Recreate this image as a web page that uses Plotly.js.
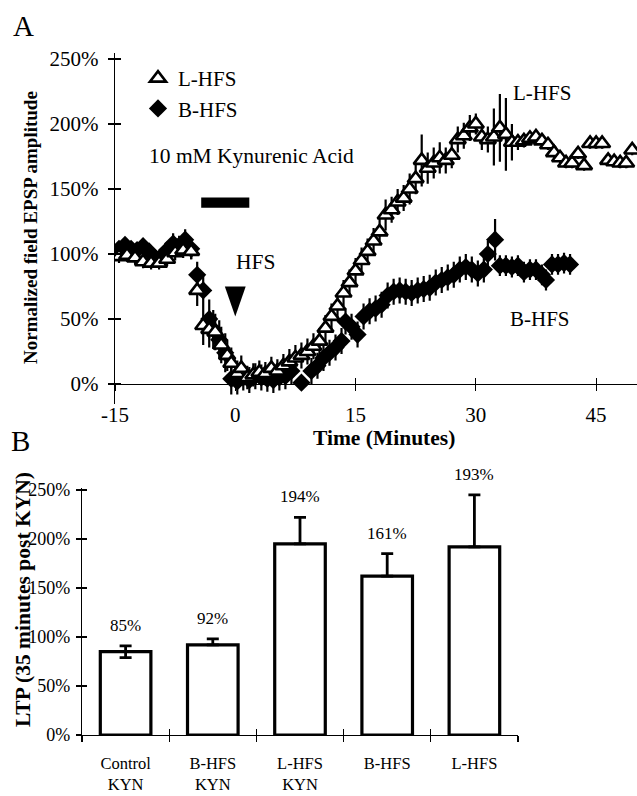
<!DOCTYPE html>
<html>
<head>
<meta charset="utf-8">
<script src="https://cdn.plot.ly/plotly-3.0.1.min.js"></script>
<style>html,body{margin:0;padding:0;background:#fff;}#plot{width:637px;height:796px;}</style>
</head>
<body>
<div id="plot"></div>
<script>
// ---------- Panel A data (time in minutes, normalized EPSP %) ----------
const lTime = [-15.5,-14.5,-13.5,-12.5,-11.5,-10.5,-9.5,-8.5,-7.5,-6.5,
  -5.5,-4.75,-4,-3.25,-2.5,-1.75,-1,-0.5,0.25,0.75,
  1.5,2.25,3,3.75,4.5,5.25,6,6.75,7.5,8.25,
  9,9.75,10.5,11.25,12,12.75,13.5,14.25,15,15.75,
  16.5,17.25,18,18.75,19.5,20.25,21,21.75,22.5,23.25,
  24,24.75,25.5,26.25,27,27.75,28.5,29.25,30,30.75,
  31.5,32.25,33,33.75,34.5,35.25,36,36.75,37.5,38.25,
  39,39.75,40.5,41.25,42,42.75,43.5,44.25,45,45.75,
  46.5,47.25,48,48.75,49.5];
const lVal = [100,98,99,97,94,93,93,96,101,103,
  102,72,45,42,40,30,22,16,8,12,
  5,7,9,8,12,10,14,17,20,22,
  25,29,33,43,52,60,70,78,87,95,
  102,110,117,130,134,140,143,150,158,172,
  166,170,174,172,176,188,191,197,200,190,
  188,190,197,192,186,186,187,189,190,187,
  184,178,174,170,170,177,168,185,185,185,
  172,171,170,170,180];
const lErr = [5,5,5,5,5,5,5,5,6,6,
  6,12,15,14,14,14,12,12,10,10,
  9,9,9,9,9,9,9,10,10,10,
  10,10,10,10,10,10,10,10,10,10,
  10,10,10,12,10,10,10,12,12,20,
  12,12,12,10,10,10,10,10,8,10,
  10,22,26,28,14,6,5,5,5,5,
  4,4,4,4,4,4,4,4,4,4,
  4,4,4,4,4];

const bTime = [-15.25,-14.5,-13.75,-13,-12.25,-11.5,-10.75,-10,-9.25,-8.5,
  -7.75,-7,-6.25,-5.5,-4.75,-4,-3.25,-2.75,-2,-1.25,
  -0.5,0.25,1,1.75,2.5,3.25,4,4.75,5.5,6.25,
  7,8.25,9.5,10.25,11,11.75,12.5,13.25,13.75,14.5,
  15.25,16,16.75,17.5,18.25,19,19.75,20.5,21.25,22,
  22.75,23.5,24.25,25,25.75,26.5,27.25,28,28.75,29.5,
  30.25,31,31.5,32.4,33,33.75,34.5,35.25,36,36.75,
  37.5,38.25,38.75,39.5,40.25,41,41.75];
const bVal = [101,104,107,104,103,106,102,97,98,103,
  108,106,111,104,84,72,50,42,34,24,
  4,2,5,3,6,5,4,3,5,6,
  10,1,10,14,20,24,28,33,48,44,
  38,52,56,58,61,68,71,72,71,70,
  72,73,74,78,80,82,84,88,90,88,
  85,88,100,111,91,91,90,91,86,88,
  88,84,80,92,92,93,92];
const bErr = [5,5,5,5,5,5,5,5,5,6,
  8,8,8,8,10,12,15,15,15,15,
  12,10,10,10,10,10,10,10,10,10,
  10,4,10,10,10,10,10,10,10,10,
  10,10,10,10,10,10,10,10,10,10,
  10,10,10,10,10,10,10,10,10,10,
  10,10,10,16,8,8,8,8,8,8,
  8,8,8,8,8,8,8];

const topTickVals = [-15,0,15,30,45];
const pctTicks = [0,50,100,150,200,250];
const kynWindow = [-4.25, 1.75];   // kynurenic acid application (min)
const hfsTime = 0;                 // HFS delivery time (min)

// ---------- Panel B data ----------
const barCats = ["Control<br>KYN","B-HFS<br>KYN","L-HFS<br>KYN","B-HFS","L-HFS"];
const barVals = [85, 92, 195, 162, 192];
const barErrPlus = [6, 6, 27, 23, 53];
const barErrMinus = [6, 0, 0, 0, 0];
const barLabels = ["85%","92%","194%","161%","193%"];

// ---------- geometry ----------
const W = 637, H = 796;
const FONT = "Liberation Serif";
const topYRange = [-15, 255];
const topDom = [1 - 403.5/H, 1 - 52.5/H];
const zeroPos = topDom[0] + (0 - topYRange[0])/(topYRange[1]-topYRange[0])*(topDom[1]-topDom[0]);
const botDom = [1 - 735/H, 1 - 488/H];

const traces = [
  { x: bTime, y: bVal, name: "B-HFS", type: "scatter", mode: "markers",
    xaxis: "x", yaxis: "y", legendrank: 2,
    marker: { symbol: "diamond", size: 14, color: "#000" },
    error_y: { type: "data", array: bErr, visible: true, thickness: 2.2, width: 0, color: "#000" } },
  { x: lTime, y: lVal, name: "L-HFS", type: "scatter", mode: "markers",
    xaxis: "x", yaxis: "y", legendrank: 1,
    marker: { symbol: "triangle-up", size: 14, color: "#fff", line: { color: "#000", width: 2.6 } },
    error_y: { type: "data", array: lErr, visible: true, thickness: 2.2, width: 0, color: "#000" } },
  { x: barCats, y: barVals, type: "bar", xaxis: "x2", yaxis: "y2", showlegend: false,
    width: 0.58,
    marker: { color: "#fff", line: { color: "#000", width: 3.2 } },
    error_y: { type: "data", symmetric: false, array: barErrPlus, arrayminus: barErrMinus,
      visible: true, thickness: 2.8, width: 6, color: "#000" } },
  { x: [], y: [], xaxis: "x3", yaxis: "y3", showlegend: false, hoverinfo: "skip", type: "scatter" },
  { x: [], y: [], xaxis: "x4", yaxis: "y4", showlegend: false, hoverinfo: "skip", type: "scatter" }
];

const tickFontTop = { family: FONT, size: 21, color: "#000" };
const tickFontBotY = { family: FONT, size: 18, color: "#000" };
const tickFontBotX = { family: FONT, size: 16.5, color: "#000" };

const annotations = [
  { text: "A", xref: "paper", yref: "paper", x: 11/W, y: 1 - 26/H, xanchor: "left", yanchor: "middle",
    showarrow: false, font: { family: FONT, size: 29, color: "#000" } },
  { text: "B", xref: "paper", yref: "paper", x: 9/W, y: 1 - 441/H, xanchor: "left", yanchor: "middle",
    showarrow: false, font: { family: FONT, size: 29, color: "#000" } },
  { text: "<b>Normalized field EPSP amplitude</b>", xref: "paper", yref: "paper", x: 30/W, y: 1 - 228/H,
    xanchor: "center", yanchor: "middle",
    textangle: -90, showarrow: false, font: { family: FONT, size: 19, color: "#000" } },
  { text: "<b>Time (Minutes)</b>", xref: "paper", yref: "paper", x: 384/W, y: 1 - 438/H,
    xanchor: "center", yanchor: "middle",
    showarrow: false, font: { family: FONT, size: 21.5, color: "#000" } },
  { text: "<b>LTP (35 minutes post KYN)</b>", xref: "paper", yref: "paper", x: 23/W, y: 1 - 600/H,
    xanchor: "center", yanchor: "middle",
    textangle: -90, showarrow: false, font: { family: FONT, size: 21.5, color: "#000" } },
  { text: "10 mM Kynurenic Acid", xref: "x", yref: "y", x: -11, y: 175, xanchor: "left", yanchor: "middle",
    showarrow: false, font: { family: FONT, size: 21.5, color: "#000" } },
  { text: "HFS", xref: "x", yref: "y", x: 2.5, y: 94, showarrow: false, xanchor: "center", yanchor: "middle",
    font: { family: FONT, size: 21.5, color: "#000" } },
  { text: "L-HFS", xref: "x", yref: "y", x: 38.25, y: 224, showarrow: false, xanchor: "center", yanchor: "middle",
    font: { family: FONT, size: 21, color: "#000" } },
  { text: "B-HFS", xref: "x", yref: "y", x: 38, y: 50, showarrow: false, xanchor: "center", yanchor: "middle",
    font: { family: FONT, size: 21, color: "#000" } }
];
barLabels.forEach((t, i) => {
  annotations.push({ text: t, xref: "x2", yref: "y2", x: barCats[i], y: barVals[i] + barErrPlus[i],
    xanchor: "center", yanchor: "bottom", yshift: 9, showarrow: false,
    font: { family: FONT, size: 17, color: "#000" } });
});

const shapes = [
  { type: "rect", xref: "x", yref: "y", x0: kynWindow[0], x1: kynWindow[1], y0: 135.5, y1: 143.5,
    fillcolor: "#000", line: { width: 0 } },
  { type: "path", xref: "x", yref: "y",
    path: `M ${hfsTime-1.3},75 L ${hfsTime+1.3},75 L ${hfsTime},52 Z`,
    fillcolor: "#000", line: { width: 0 } }
];

const axBase = { showgrid: false, zeroline: false, showline: true, linecolor: "#000", linewidth: 1.2,
  tickcolor: "#000", tickwidth: 1.2, ticklen: 6 };

const layout = {
  width: W, height: H,
  margin: { l: 0, r: 0, t: 0, b: 0 },
  paper_bgcolor: "#fff", plot_bgcolor: "rgba(0,0,0,0)",
  showlegend: true,
  legend: { x: 138/W, y: 1 - 58/H, xanchor: "left", yanchor: "top", bgcolor: "rgba(0,0,0,0)",
    font: { family: FONT, size: 21, color: "#000" }, tracegroupgap: 0, itemwidth: 30 },
  xaxis: Object.assign({}, axBase, { domain: [115/W, 1], range: [-15, 50.1], anchor: "free", position: zeroPos,
    ticks: "outside", tickvals: topTickVals, ticktext: topTickVals.map(String), tickfont: tickFontTop,
    ticklabelstandoff: 6 }),
  yaxis: Object.assign({}, axBase, { domain: topDom, range: topYRange, anchor: "x",
    ticks: "outside", tickvals: pctTicks, ticktext: pctTicks.map(v => v + "%"), tickfont: tickFontTop,
    ticklabelstandoff: 5 }),
  xaxis3: Object.assign({}, axBase, { overlaying: "x", range: [-15, 50.1], anchor: "free", position: zeroPos,
    showline: false, ticks: "inside", tickvals: topTickVals, showticklabels: false }),
  yaxis3: Object.assign({}, axBase, { overlaying: "y", range: topYRange, anchor: "x",
    showline: false, ticks: "inside", tickvals: pctTicks, showticklabels: false }),
  xaxis2: Object.assign({}, axBase, { domain: [82/W, 518/W], type: "category", range: [-0.5, 4.5], anchor: "y2",
    ticks: "outside", tickson: "boundaries", tickfont: tickFontBotX, ticklabelstandoff: 13 }),
  yaxis2: Object.assign({}, axBase, { domain: botDom, range: [0, 252], anchor: "x2", ticklen: 5,
    ticks: "outside", tickvals: pctTicks, ticktext: pctTicks.map(v => v + "%"), tickfont: tickFontBotY,
    ticklabelstandoff: 2 }),
  xaxis4: Object.assign({}, axBase, { overlaying: "x2", range: [-0.5, 4.5], anchor: "y2", showline: false,
    ticks: "inside", tickvals: [0.5, 1.5, 2.5, 3.5, 4.5], showticklabels: false }),
  yaxis4: Object.assign({}, axBase, { overlaying: "y2", range: [0, 252], anchor: "x2", showline: false, ticklen: 5,
    ticks: "inside", tickvals: pctTicks, showticklabels: false }),
  annotations: annotations,
  shapes: shapes
};

Plotly.newPlot("plot", traces, layout, { displayModeBar: false, staticPlot: true });
</script>
</body>
</html>
